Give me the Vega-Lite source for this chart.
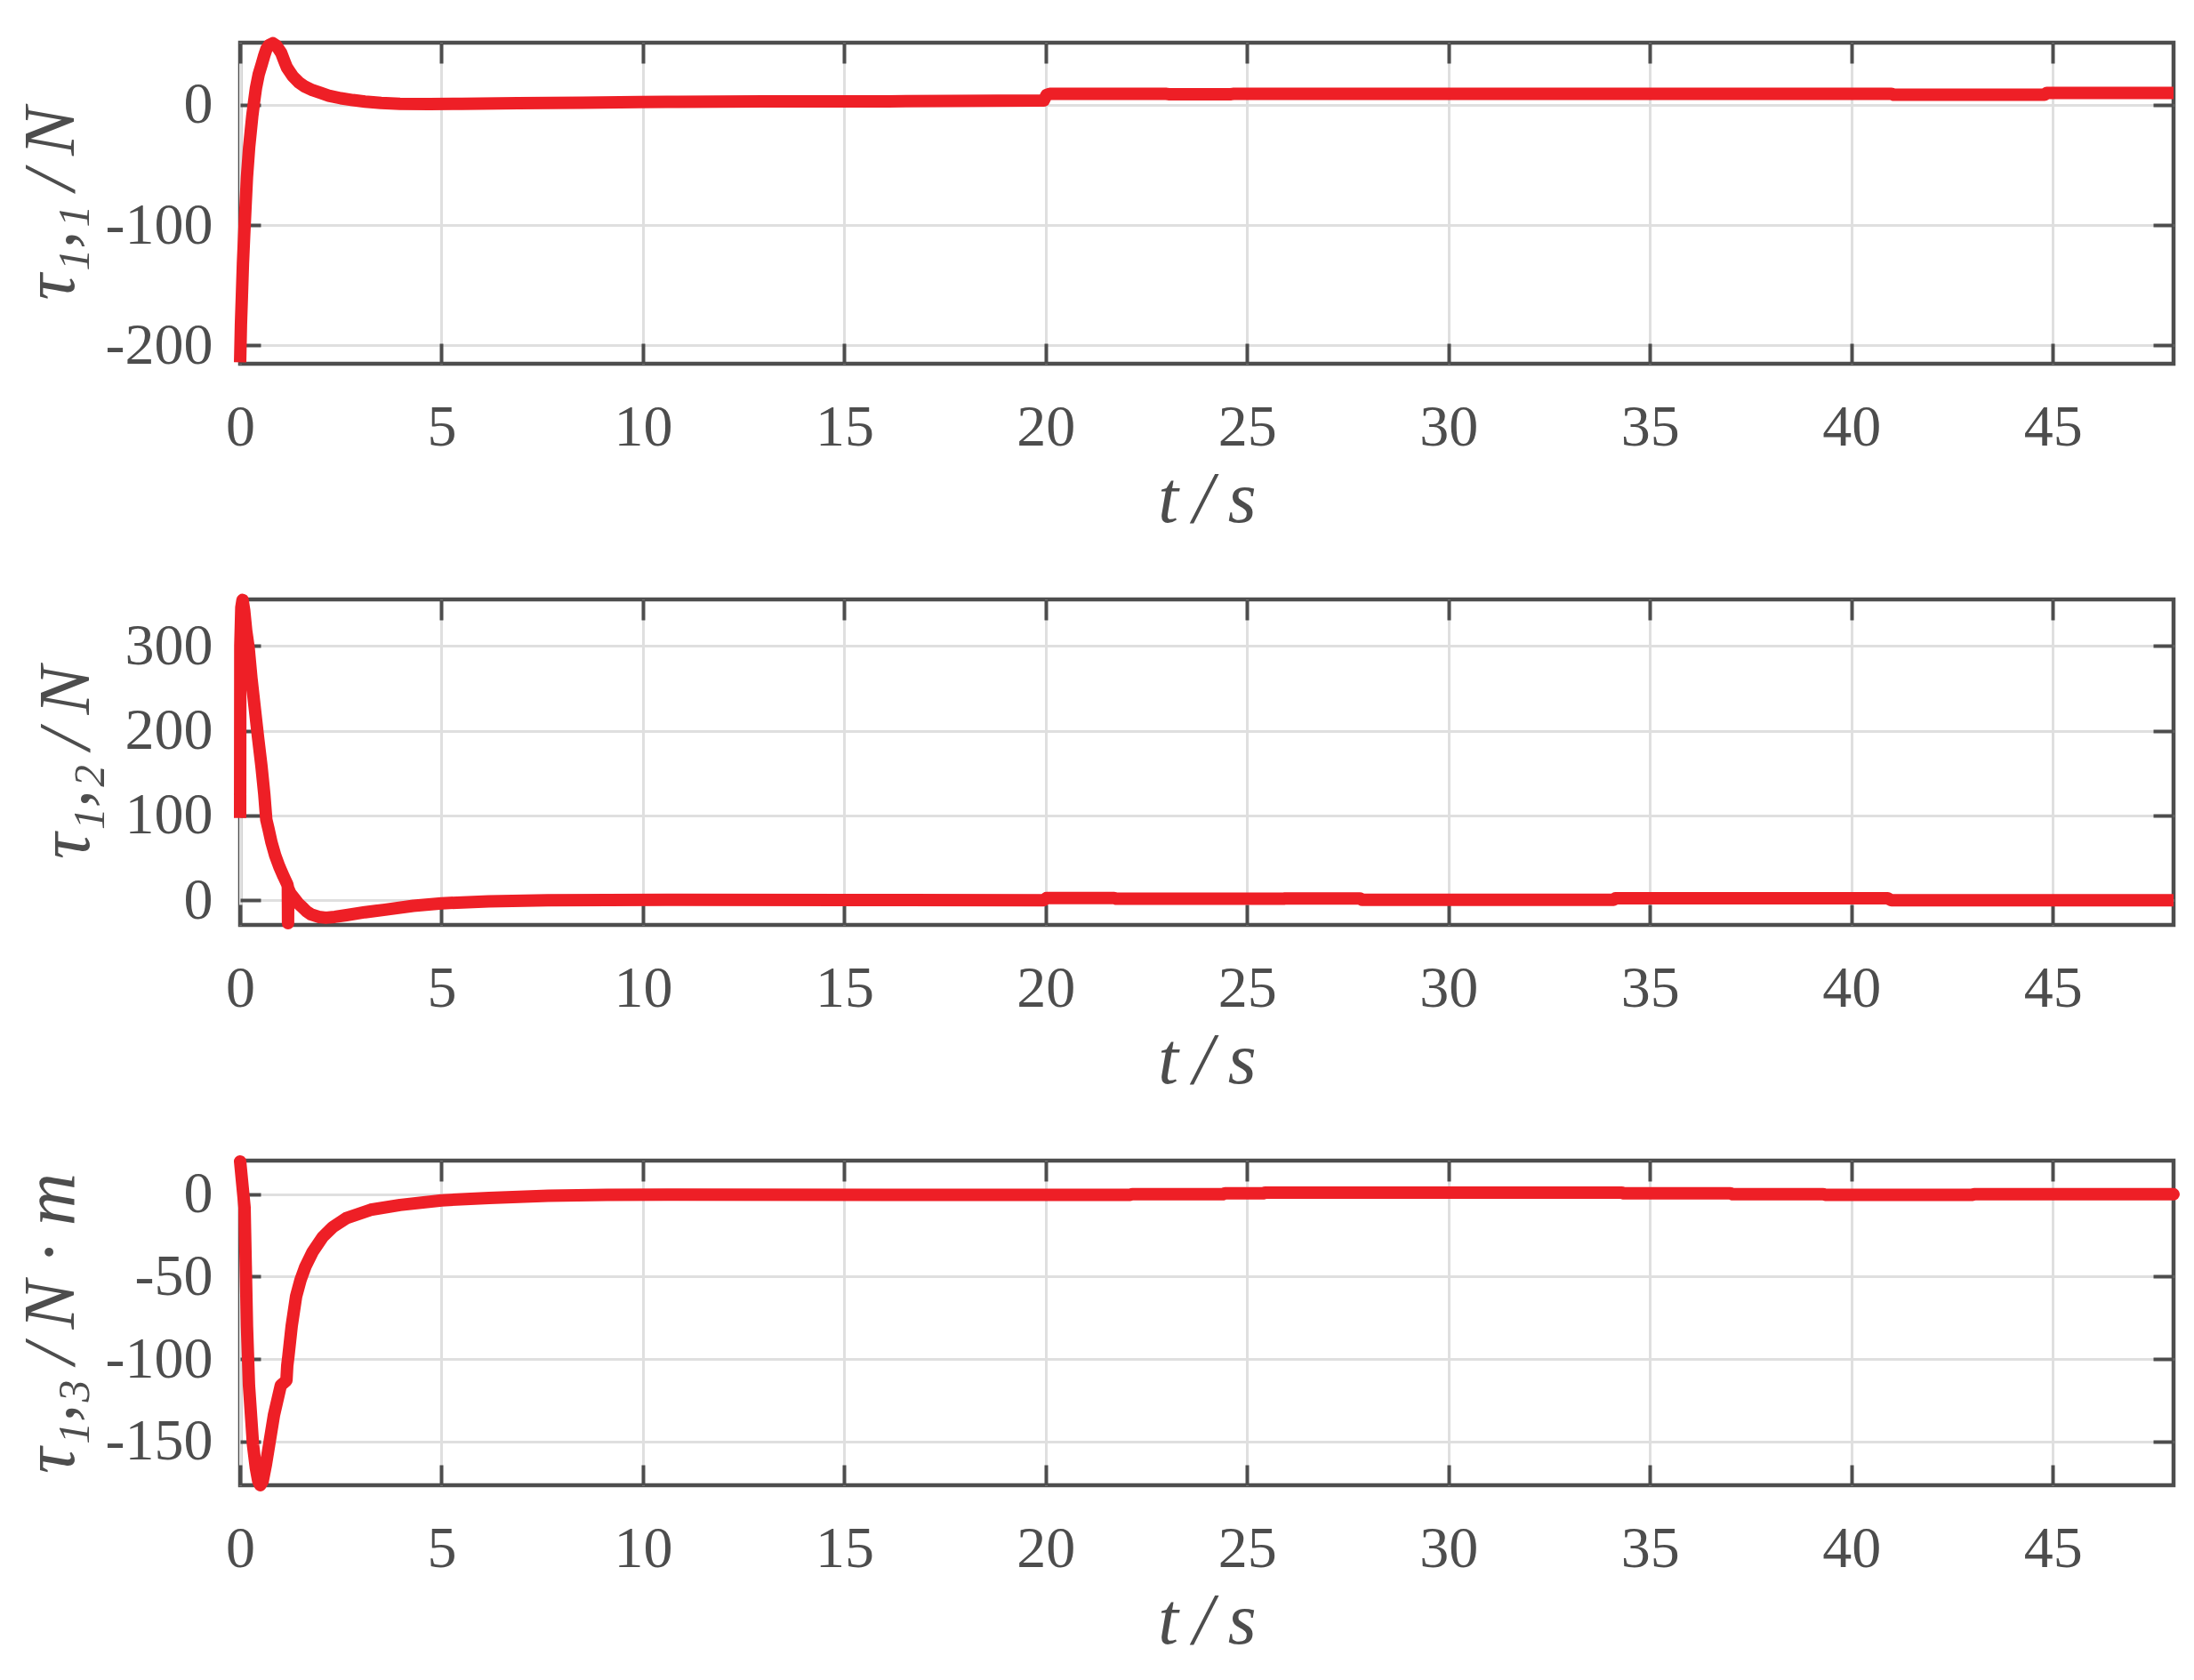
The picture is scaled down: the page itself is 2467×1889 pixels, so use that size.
{
  "$schema": "https://vega.github.io/schema/vega-lite/v6.json",
  "padding": {"left": 13, "top": 39, "right": 20, "bottom": 20},
  "background": "white",
  "bounds": "flush",
  "spacing": 265,
  "datasets": {
    "p1": [
      {"t":0,"v":-214},{"t":0.02,"v":-183},{"t":0.045,"v":-158},{"t":0.07,"v":-132},{"t":0.1,"v":-109},{"t":0.135,"v":-84},{"t":0.17,"v":-60},{"t":0.225,"v":-35},{"t":0.3,"v":-10},{"t":0.345,"v":2},{"t":0.394,"v":14},{"t":0.46,"v":25},{"t":0.54,"v":34},{"t":0.6,"v":41},{"t":0.65,"v":46},{"t":0.72,"v":49.5},{"t":0.81,"v":51},{"t":0.9,"v":49},{"t":1.02,"v":43},{"t":1.1,"v":36},{"t":1.16,"v":31},{"t":1.22,"v":28},{"t":1.31,"v":23.5},{"t":1.46,"v":18.5},{"t":1.61,"v":15},{"t":1.8,"v":12},{"t":1.98,"v":10},{"t":2.2,"v":7.5},{"t":2.5,"v":5.3},{"t":2.8,"v":3.8},{"t":3.1,"v":2.6},{"t":3.5,"v":1.4},{"t":3.97,"v":0.7},{"t":4.7,"v":0.5},{"t":5.5,"v":0.7},{"t":6.9,"v":1.2},{"t":8.5,"v":1.7},{"t":9.9,"v":2.1},{"t":10.6,"v":2.4},{"t":13,"v":2.7},{"t":16.1,"v":2.8},{"t":17.7,"v":3.2},{"t":19.95,"v":3.4},{"t":20.02,"v":8.0},{"t":20.1,"v":9.0},{"t":23,"v":9.0},{"t":23.05,"v":8.7},{"t":24.6,"v":8.7},{"t":24.65,"v":9.0},{"t":41.0,"v":9.0},{"t":41.05,"v":8.3},{"t":44.8,"v":8.3},{"t":44.85,"v":9.8},{"t":48,"v":9.8}
    ],
    "p2": [
      {"t":0,"v":97},{"t":0.005,"v":300},{"t":0.03,"v":345},{"t":0.06,"v":354},{"t":0.1,"v":342},{"t":0.15,"v":318},{"t":0.21,"v":298},{"t":0.28,"v":262},{"t":0.36,"v":228},{"t":0.45,"v":190},{"t":0.53,"v":158},{"t":0.6,"v":125},{"t":0.65,"v":95},{"t":0.7,"v":85},{"t":0.78,"v":68},{"t":0.87,"v":53},{"t":0.97,"v":40},{"t":1.08,"v":28},{"t":1.17,"v":19},{"t":1.185,"v":16},{"t":1.19,"v":-27},{"t":1.195,"v":14},{"t":1.25,"v":8},{"t":1.35,"v":2},{"t":1.45,"v":-4},{"t":1.54,"v":-8},{"t":1.65,"v":-13},{"t":1.76,"v":-16.5},{"t":1.95,"v":-19.5},{"t":2.13,"v":-20.5},{"t":2.35,"v":-19.5},{"t":2.64,"v":-17.5},{"t":3.1,"v":-14},{"t":3.6,"v":-11},{"t":4.3,"v":-6.5},{"t":5,"v":-3.5},{"t":6.17,"v":-1.2},{"t":7.64,"v":0},{"t":10.6,"v":0.5},{"t":15,"v":0.3},{"t":19.95,"v":0.2},{"t":20.02,"v":2.8},{"t":21.7,"v":2.8},{"t":21.75,"v":1.8},{"t":25.9,"v":1.8},{"t":25.95,"v":2.3},{"t":27.8,"v":2.3},{"t":27.85,"v":0.7},{"t":34.1,"v":0.7},{"t":34.15,"v":2.5},{"t":40.9,"v":2.5},{"t":41.0,"v":0},{"t":48,"v":0}
    ],
    "p3": [
      {"t":0,"v":19.8},{"t":0.11,"v":-8},{"t":0.14,"v":-44},{"t":0.17,"v":-80},{"t":0.22,"v":-116},{"t":0.32,"v":-152},{"t":0.39,"v":-166},{"t":0.45,"v":-174},{"t":0.5,"v":-176.5},{"t":0.56,"v":-174},{"t":0.64,"v":-164},{"t":0.72,"v":-152},{"t":0.84,"v":-134},{"t":1.01,"v":-116},{"t":1.15,"v":-113},{"t":1.17,"v":-104},{"t":1.2,"v":-98},{"t":1.28,"v":-80},{"t":1.39,"v":-62},{"t":1.5,"v":-52},{"t":1.62,"v":-44},{"t":1.8,"v":-35},{"t":2.05,"v":-26},{"t":2.3,"v":-20},{"t":2.64,"v":-14.5},{"t":3.24,"v":-9.5},{"t":3.97,"v":-6.6},{"t":5,"v":-3.8},{"t":6.18,"v":-2.3},{"t":7.65,"v":-1.0},{"t":9.1,"v":-0.5},{"t":10.6,"v":-0.3},{"t":16,"v":-0.4},{"t":22.1,"v":-0.4},{"t":22.15,"v":0},{"t":24.4,"v":0},{"t":24.45,"v":0.5},{"t":25.4,"v":0.5},{"t":25.45,"v":0.9},{"t":34.3,"v":0.9},{"t":34.35,"v":0.5},{"t":37,"v":0.5},{"t":37.05,"v":0},{"t":39.3,"v":0},{"t":39.35,"v":-0.4},{"t":43,"v":-0.4},{"t":43.05,"v":-0.1},{"t":48,"v":-0.1}
    ]
  },
  "vconcat": [
    {
      "width": 2174, "height": 361,
      "data": {"name": "p1"},
      "resolve": {"axis": {"x": "independent", "y": "independent"}},
      "layer": [
        {
          "mark": {"type": "line", "color": "#ee1f26", "strokeWidth": 14, "strokeJoin": "round", "strokeCap": "butt", "clip": false},
          "encoding": {
            "x": {"field": "t", "type": "quantitative", "scale": {"domain": [0, 48], "nice": false, "zero": false},
              "axis": {"orient": "bottom", "values": [0,5,10,15,20,25,30,35,40,45], "grid": true, "ticks": true, "tickSize": -23, "labelPadding": 114, "labelBaseline": "alphabetic", "labelFlush": false, "labelOverlap": false, "labelExpr": "'' + datum.value", "title": "t\u2009/\u2009s", "titleY": 177, "titleBaseline": "alphabetic"}},
            "y": {"field": "v", "type": "quantitative", "scale": {"domain": [-215.2, 51.5], "nice": false, "zero": false},
              "axis": {"orient": "left", "values": [-200,-100,0], "grid": true, "ticks": true, "tickSize": -23, "labelPadding": 54, "labelFlush": false, "labelOverlap": false, "labelExpr": "'' + datum.value", "title": "τ₁,₁\u2009/\u2009N", "titleX": -188, "titleBaseline": "alphabetic", "titleAngle": 270, "titleAlign": "center"}}
          }
        },
        {
          "mark": {"type": "line", "strokeOpacity": 0, "clip": false},
          "encoding": {
            "x": {"field": "t", "type": "quantitative", "axis": {"orient": "top", "values": [0,5,10,15,20,25,30,35,40,45], "grid": false, "labels": false, "ticks": true, "tickSize": -23, "title": null}},
            "y": {"field": "v", "type": "quantitative", "axis": {"orient": "right", "values": [-200,-100,0], "grid": false, "labels": false, "ticks": true, "tickSize": -23, "title": null}}
          }
        }
      ]
    },
    {
      "width": 2174, "height": 366,
      "data": {"name": "p2"},
      "resolve": {"axis": {"x": "independent", "y": "independent"}},
      "layer": [
        {
          "mark": {"type": "line", "color": "#ee1f26", "strokeWidth": 14, "strokeJoin": "round", "strokeCap": "butt", "clip": false},
          "encoding": {
            "x": {"field": "t", "type": "quantitative", "scale": {"domain": [0, 48], "nice": false, "zero": false},
              "axis": {"orient": "bottom", "values": [0,5,10,15,20,25,30,35,40,45], "grid": true, "ticks": true, "tickSize": -23, "labelPadding": 114, "labelBaseline": "alphabetic", "labelFlush": false, "labelOverlap": false, "labelExpr": "'' + datum.value", "title": "t\u2009/\u2009s", "titleY": 177, "titleBaseline": "alphabetic"}},
            "y": {"field": "v", "type": "quantitative", "scale": {"domain": [-29, 354.6], "nice": false, "zero": false},
              "axis": {"orient": "left", "values": [0,100,200,300], "grid": true, "ticks": true, "tickSize": -23, "labelPadding": 54, "labelFlush": false, "labelOverlap": false, "labelExpr": "'' + datum.value", "title": "τ₁,₂\u2009/\u2009N", "titleX": -171, "titleBaseline": "alphabetic", "titleAngle": 270, "titleAlign": "center"}}
          }
        },
        {
          "mark": {"type": "line", "strokeOpacity": 0, "clip": false},
          "encoding": {
            "x": {"field": "t", "type": "quantitative", "axis": {"orient": "top", "values": [0,5,10,15,20,25,30,35,40,45], "grid": false, "labels": false, "ticks": true, "tickSize": -23, "title": null}},
            "y": {"field": "v", "type": "quantitative", "axis": {"orient": "right", "values": [0,100,200,300], "grid": false, "labels": false, "ticks": true, "tickSize": -23, "title": null}}
          }
        }
      ]
    },
    {
      "width": 2174, "height": 365,
      "data": {"name": "p3"},
      "resolve": {"axis": {"x": "independent", "y": "independent"}},
      "layer": [
        {
          "mark": {"type": "line", "color": "#ee1f26", "strokeWidth": 14, "strokeJoin": "round", "strokeCap": "round", "clip": false},
          "encoding": {
            "x": {"field": "t", "type": "quantitative", "scale": {"domain": [0, 48], "nice": false, "zero": false},
              "axis": {"orient": "bottom", "values": [0,5,10,15,20,25,30,35,40,45], "grid": true, "ticks": true, "tickSize": -23, "labelPadding": 114, "labelBaseline": "alphabetic", "labelFlush": false, "labelOverlap": false, "labelExpr": "'' + datum.value", "title": "t\u2009/\u2009s", "titleY": 177, "titleBaseline": "alphabetic"}},
            "y": {"field": "v", "type": "quantitative", "scale": {"domain": [-176.5, 20.3], "nice": false, "zero": false},
              "axis": {"orient": "left", "values": [-150,-100,-50,0], "grid": true, "ticks": true, "tickSize": -23, "labelPadding": 54, "labelFlush": false, "labelOverlap": false, "labelExpr": "'' + datum.value", "title": "τ₁,₃\u2009/\u2009N · m", "titleX": -188, "titleBaseline": "alphabetic", "titleAngle": 270, "titleAlign": "center"}}
          }
        },
        {
          "mark": {"type": "line", "strokeOpacity": 0, "clip": false},
          "encoding": {
            "x": {"field": "t", "type": "quantitative", "axis": {"orient": "top", "values": [0,5,10,15,20,25,30,35,40,45], "grid": false, "labels": false, "ticks": true, "tickSize": -23, "title": null}},
            "y": {"field": "v", "type": "quantitative", "axis": {"orient": "right", "values": [-150,-100,-50,0], "grid": false, "labels": false, "ticks": true, "tickSize": -23, "title": null}}
          }
        }
      ]
    }
  ],
  "config": {
    "view": {"stroke": "#4d4d4d", "strokeWidth": 4.5},
    "axis": {
      "domain": false,
      "labelFont": "Liberation Serif", "labelFontSize": 66, "labelColor": "#4d4d4d",
      "titleFont": "Liberation Serif", "titleFontSize": 82, "titleFontStyle": "italic", "titleFontWeight": "normal", "titleColor": "#4d4d4d",
      "gridColor": "#dfdfdf", "gridWidth": 3, "gridOpacity": 1,
      "tickColor": "#4d4d4d", "tickWidth": 4
    }
  }
}
